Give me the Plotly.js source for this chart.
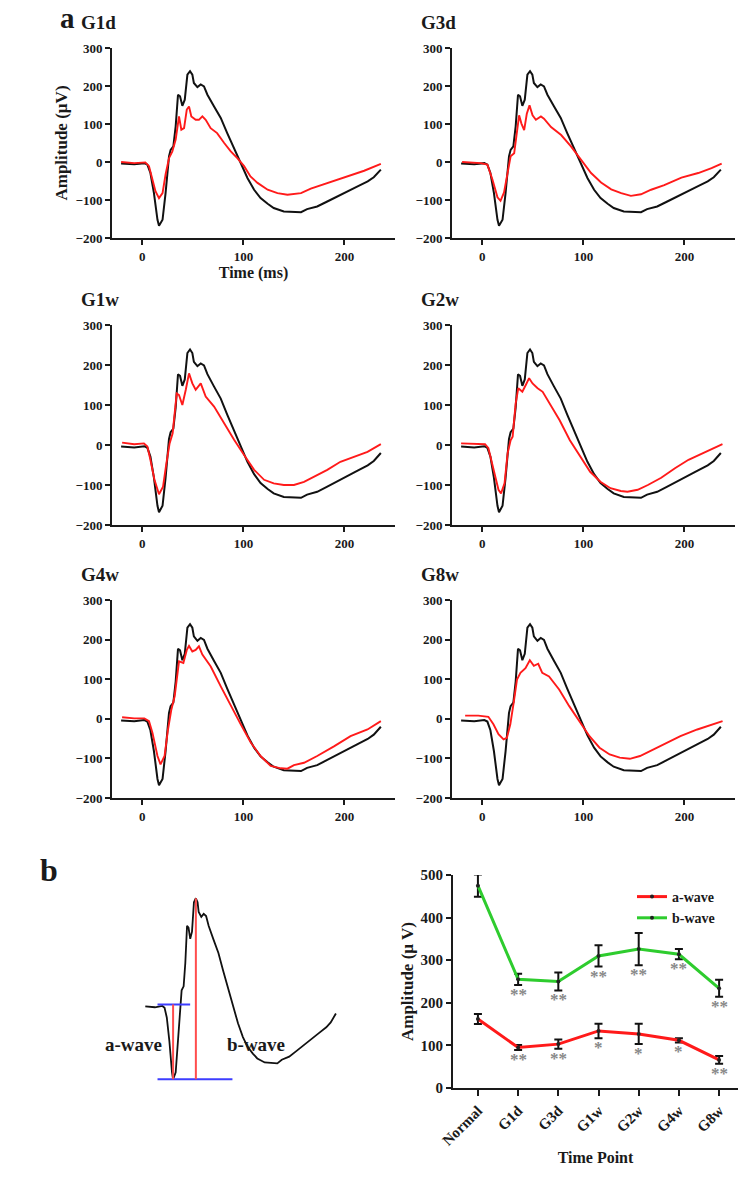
<!DOCTYPE html>
<html><head><meta charset="utf-8">
<script src="https://cdn.plot.ly/plotly-3.0.1.min.js"></script>
<style>html,body{margin:0;padding:0;background:#fff;}#chart{width:751px;height:1180px;}</style>
</head><body><div id="chart"></div>
<script>
// ---------- Data: ERG waveforms (time in ms, amplitude in µV) ----------
const normalT = [-21,-8,2,5,8,11.5,15,16.5,20,23,26.4,28,30.7,33,35.3,37.3,39.6,42,44.6,47.2,49.5,51,54.5,57.8,61,64.4,71,77.6,84,90.8,97,104,110.6,117,124,130,140,150,157,163,173,183,193,203,213,223,229,236];
const normalV = [-4,-6,-3,-7,-29,-82,-152,-168,-152,-82,15,32,41,94,177,173,148,164,230,239,230,208,197,204,199,177,146,116,76,37,-3,-42,-73,-95,-110,-121,-130,-132,-132,-124,-117,-104,-90,-77,-64,-51,-40,-20];

const g1dT = [-21,-8,3,6.6,10,13,16.5,20,23,26.4,29.7,33,36.3,38.6,41.3,44,46.2,48.5,52.8,56,59.4,62.7,67.6,74,81,87.5,94,100.7,107,114,124,133.7,143.6,157,166.7,180,193,206,219.5,236];
const g1dV = [0,-3,-1,-11,-46,-77,-95,-82,-33,10,28,59,120,85,89,138,146,120,111,111,120,111,89,76,50,28,10,-11,-38,-55,-73,-82,-86,-82,-70,-58,-46,-35,-23,-5];

const g3dT = [-20,-1.6,5,10,15,18,21.5,24.8,28,31.5,34,36.4,38.7,41.4,44,46.7,49.7,53,58,61,68,78,87.7,97.7,107.6,117.5,127.5,137.4,147,157,167,180,197,213.6,226.8,236.8];
const g3dV = [0,-3,-7,-46,-93,-102,-80,-29,15,23,75,123,101,84,127,149,123,111,120,114,92,71,41,6,-29,-54,-72,-82,-89,-85,-73,-61,-41,-29,-16,-4];

const g1wT = [-20,-8,1.6,5,8,12,16.5,20.5,23.8,27,30,34,36.3,39.6,43,46.2,49.5,52.8,57.8,62.7,71,81,90.8,100.7,110.6,120.5,130,140,150,160,170,183,196,209.6,222.8,236];
const g1wV = [6,2,4,-4,-37,-87,-123,-104,-46,4,29,129,125,100,138,179,154,138,154,121,96,54,13,-25,-62,-87,-96,-100,-100,-92,-79,-62,-42,-29,-17,2];

const g2wT = [-21,-4,2.7,6,11,16,18.5,22,25,28,30,33,35.6,39.6,43,46.3,49.7,54.7,59.7,66.4,76.5,86.6,96.6,106.7,116.8,126.8,137,143.6,153.7,163.8,177,190.6,204,217.4,237.6];
const g2wV = [4,2,2,-8,-62,-112,-121,-96,-21,12,21,104,142,133,150,167,154,142,133,104,62,12,-29,-67,-92,-108,-115,-117,-112,-100,-82,-58,-37,-21,2];

const g4wT = [-20,-8,2,6.6,10,15,18,22,25.4,28.7,32,36.3,40.6,44,46.2,49.5,52.8,56,59.4,67.7,77.6,87.5,97.4,107.3,117,127,137,143.6,150,160,173,190,206,222.8,236];
const g4wV = [4,1,1,-6,-35,-94,-115,-94,-27,23,57,145,141,174,184,170,174,183,162,132,82,32,-14,-60,-94,-119,-125,-126,-117,-111,-94,-69,-44,-27,-6];

const g8wT = [-17,-4,6,11,16,21,24.3,27.7,31,34.3,37.7,42.7,47,51,55.3,59.3,66,76,86,96,106,116,126,136,146,156,166,179,196,212.7,229,237.7];
const g8wV = [8,8,5,-14,-39,-52,-48,-14,40,99,116,128,148,134,139,116,107,74,32,-6,-44,-73,-90,-98,-101,-94,-81,-65,-44,-27,-14,-6];

const panelNames = ['G1d','G3d','G1w','G2w','G4w','G8w'];
const groupT = [g1dT,g3dT,g1wT,g2wT,g4wT,g8wT];
const groupV = [g1dV,g3dV,g1wV,g2wV,g4wV,g8wV];
const waveTicks = [0,100,200];

// ---------- Data: summary of a-/b-wave amplitudes ----------
const timePoints = ['Normal','G1d','G3d','G1w','G2w','G4w','G8w'];
const aWave = [162,95,103,134,127,112,66];
const aErr  = [12,6,11,17,24,5,9];
const bWave = [475,255,250,310,326,314,234];
const bErr  = [26,13,21,25,38,12,20];
const aSig  = ['','**','**','*','*','*','**'];
const bSig  = ['','**','**','**','**','**','**'];

// ---------- Layout helpers ----------
const W = 751, H = 1180;
const fx = px => px / W;
const fy = py => 1 - py / H;
const FONT = 'Liberation Serif, Times New Roman, serif';
const INK = '#1a1a1a';

const rows = [{top:48,bottom:238},{top:325,bottom:525},{top:600,bottom:798}];
const cols = [112, 452];
const PW = 283;

const traces = [];
const layout = {
  width: W, height: H,
  margin: {l:0,r:0,t:0,b:0},
  paper_bgcolor: '#fff', plot_bgcolor: 'rgba(0,0,0,0)',
  showlegend: true,
  font: {family: FONT, color: INK},
  annotations: [], shapes: []
};

const tickFont = {family: FONT, size: 13, color: INK, weight: 'bold'};

for (let i = 0; i < 6; i++) {
  const r = rows[Math.floor(i/2)], c = cols[i%2];
  const n = i + 1;
  const xa = 'xaxis' + n, ya = 'yaxis' + n;
  layout[xa] = {
    domain: [fx(c), fx(c+PW)], anchor: 'y'+n, range: [-30,250],
    tickvals: waveTicks, ticks: 'outside', ticklen: 5, tickwidth: 2, tickcolor: INK,
    showline: true, linewidth: 2, linecolor: INK, showgrid: false, zeroline: false,
    tickfont: tickFont, fixedrange: true
  };
  layout[ya] = {
    domain: [fy(r.bottom), fy(r.top)], anchor: 'x'+n, range: [-200,300], dtick: 100,
    ticks: 'outside', ticklen: 5, tickwidth: 2, tickcolor: INK,
    showline: true, linewidth: 2, linecolor: INK, showgrid: false, zeroline: false,
    tickfont: tickFont, fixedrange: true
  };
  if (i === 0) {
    layout[xa].title = {text: 'Time (ms)', font: {family: FONT, size: 16, color: INK, weight: 'bold'}, standoff: 2};
    layout[ya].title = {text: 'Amplitude (µV)', font: {family: FONT, size: 17, color: INK, weight: 'bold'}, standoff: 4};
  }
  traces.push({x: normalT, y: normalV, xaxis: 'x'+n, yaxis: 'y'+n, mode: 'lines',
    line: {color: '#111', width: 2}, showlegend: false, hoverinfo: 'skip'});
  traces.push({x: groupT[i], y: groupV[i], xaxis: 'x'+n, yaxis: 'y'+n, mode: 'lines',
    line: {color: '#ff1a1a', width: 1.9}, showlegend: false, hoverinfo: 'skip'});
  layout.annotations.push({
    text: panelNames[i], xref: 'paper', yref: 'paper',
    x: fx(c - 33), y: fy(r.top - 13), xanchor: 'left', yanchor: 'bottom', showarrow: false,
    font: {family: FONT, size: 19, color: INK, weight: 'bold'}
  });
}

// panel letters
layout.annotations.push({text: 'a', xref:'paper', yref:'paper', x: fx(58), y: 1, xanchor:'left', yanchor:'top', showarrow:false,
  font:{family:FONT, size:29, color:INK, weight:'bold'}});
layout.annotations.push({text: 'b', xref:'paper', yref:'paper', x: fx(38), y: fy(890), xanchor:'left', yanchor:'bottom', showarrow:false,
  font:{family:FONT, size:32, color:INK, weight:'bold'}});

// ---------- Schematic (panel b, left) ----------
layout.xaxis7 = {domain: [fx(138.6), fx(346.3)], anchor: 'y7', range: [-30,250], visible: false, fixedrange: true};
layout.yaxis7 = {domain: [fy(1093.6), fy(871.1)], anchor: 'x7', range: [-200,300], visible: false, fixedrange: true};
traces.push({x: normalT, y: normalV, xaxis: 'x7', yaxis: 'y7', mode: 'lines',
  line: {color: '#111', width: 1.8}, showlegend: false, hoverinfo: 'skip'});
let iMin = 0, iMax = 0;
normalV.forEach((v, k) => { if (v < normalV[iMin]) iMin = k; if (v > normalV[iMax]) iMax = k; });
const tMin = normalT[iMin], vMin = normalV[iMin], tMax = normalT[iMax], vMax = normalV[iMax];
const blue = '#3d3dff', red = '#ff4d4d';
layout.shapes.push(
  {type:'line', xref:'x7', yref:'y7', x0:tMin-21, x1:tMin+23, y0:0, y1:0, line:{color:blue, width:2}},
  {type:'line', xref:'x7', yref:'y7', x0:tMin-21, x1:tMin+80, y0:vMin, y1:vMin, line:{color:blue, width:2}},
  {type:'line', xref:'x7', yref:'y7', x0:tMin, x1:tMin, y0:0, y1:vMin, line:{color:red, width:2}},
  {type:'line', xref:'x7', yref:'y7', x0:tMax, x1:tMax, y0:vMax, y1:vMin, line:{color:red, width:2}}
);
layout.annotations.push(
  {text:'a-wave', xref:'paper', yref:'paper', x: fx(133), y: fy(1044), xanchor:'center', yanchor:'middle', showarrow:false,
   font:{family:FONT, size:19, color:INK, weight:'bold'}},
  {text:'b-wave', xref:'paper', yref:'paper', x: fx(256), y: fy(1044), xanchor:'center', yanchor:'middle', showarrow:false,
   font:{family:FONT, size:19, color:INK, weight:'bold'}}
);

// ---------- Summary chart (panel b, right) ----------
const bFont = {family: FONT, size: 15, color: INK, weight: 'bold'};
layout.xaxis8 = {
  domain: [fx(453), fx(738)], anchor: 'y8', type: 'category', range: [-0.62, 6.47],
  ticks: 'outside', ticklen: 6, tickwidth: 2, tickcolor: INK, tickangle: -45,
  showline: true, linewidth: 2, linecolor: INK, showgrid: false, zeroline: false,
  tickfont: bFont, fixedrange: true,
  title: {text: 'Time Point', font: {family: FONT, size: 16, color: INK, weight: 'bold'}, standoff: 4}
};
layout.yaxis8 = {
  domain: [fy(1088), fy(875)], anchor: 'x8', range: [0, 500], dtick: 100,
  ticks: 'outside', ticklen: 5, tickwidth: 2, tickcolor: INK,
  showline: true, linewidth: 2, linecolor: INK, showgrid: false, zeroline: false,
  tickfont: bFont, fixedrange: true,
  title: {text: 'Amplitude (µ V)', font: {family: FONT, size: 17, color: INK, weight: 'bold'}, standoff: 3}
};
traces.push({
  name: 'a-wave', x: timePoints, y: aWave, xaxis: 'x8', yaxis: 'y8', mode: 'lines+markers',
  line: {color: '#ff1a1a', width: 3}, marker: {color: '#222', size: 4},
  error_y: {type: 'data', array: aErr, visible: true, color: '#111', thickness: 2, width: 4},
  cliponaxis: false
});
traces.push({
  name: 'b-wave', x: timePoints, y: bWave, xaxis: 'x8', yaxis: 'y8', mode: 'lines+markers',
  line: {color: '#2ecc2e', width: 3}, marker: {color: '#222', size: 4},
  error_y: {type: 'data', array: bErr, visible: true, color: '#111', thickness: 2, width: 4},
  cliponaxis: false
});
const sigFont = {family: FONT, size: 17, color: '#888', weight: 'bold'};
timePoints.forEach((tp, k) => {
  if (aSig[k]) layout.annotations.push({text: aSig[k], xref:'x8', yref:'y8', x: tp, y: aWave[k]-aErr[k],
    xanchor:'center', yanchor:'top', yshift: 2, showarrow:false, font: sigFont});
  if (bSig[k]) layout.annotations.push({text: bSig[k], xref:'x8', yref:'y8', x: tp, y: bWave[k]-bErr[k],
    xanchor:'center', yanchor:'top', yshift: 2, showarrow:false, font: sigFont});
});
layout.legend = {x: fx(632), y: fy(881), xanchor: 'left', yanchor: 'top', bgcolor: 'rgba(0,0,0,0)',
  font: {family: FONT, size: 14, color: INK, weight: 'bold'}, tracegroupgap: 0, itemwidth: 30};

Plotly.newPlot('chart', traces, layout, {staticPlot: true, displayModeBar: false});
</script>
</body></html>
